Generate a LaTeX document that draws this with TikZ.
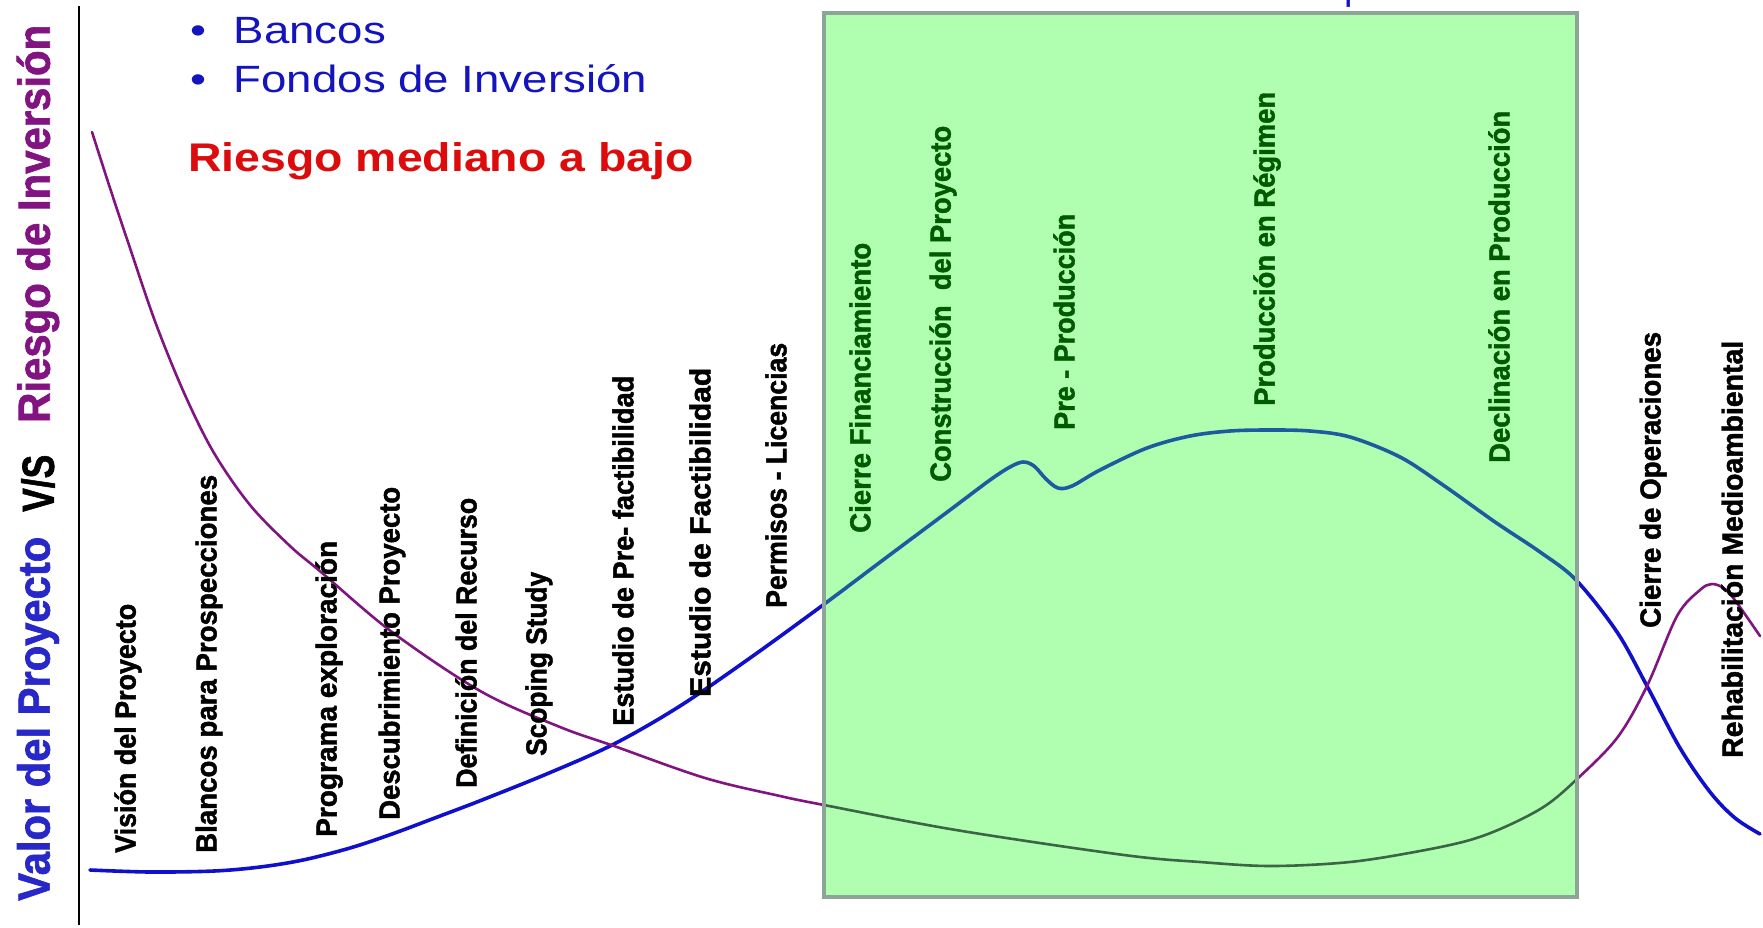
\documentclass[tikz,border=0pt]{standalone}
\usepackage{fontspec}
\setmainfont{Liberation Sans}
\newfontfamily\heavyfont{Liberation Sans}[BoldFeatures={FakeBold=1.6}]
\usepackage{graphicx}
\definecolor{valblue}{RGB}{16,16,204}
\definecolor{riskpurple}{RGB}{128,20,128}
\definecolor{valin}{RGB}{30,90,160}
\definecolor{riskin}{RGB}{60,100,70}
\definecolor{rectfill}{RGB}{176,255,176}
\definecolor{rectborder}{RGB}{140,165,150}
\definecolor{labgreen}{RGB}{0,90,0}
\definecolor{titleblue}{RGB}{20,20,190}
\definecolor{titlered}{RGB}{220,12,12}
\definecolor{yblue}{RGB}{40,40,200}
\definecolor{ypurple}{RGB}{130,20,130}
\newcommand\fitlab[2]{\resizebox{#1pt}{\height}{#2}}
\newcommand\bluecurve{plot[smooth,tension=0.55] coordinates {(90,870) (150,872) (214,871) (260,867) (303,860) (350,848) (392,834) (440,816) (482,800) (549,773) (614,744) (680,706) (750,658) (823,605) (883,560) (950,510) (990,480) (1010,467) (1023,462) (1034,466) (1046,479) (1058,488) (1072,486) (1100,470) (1147,448) (1190,436) (1230,431) (1270,430) (1310,431) (1350,437) (1400,457) (1443,485) (1495,522) (1540,552) (1576,580) (1617,632) (1647,686) (1680,748) (1710,792) (1735,818) (1760,834)}}
\newcommand\riskcurve{plot[smooth,tension=0.55] coordinates {(92,132) (110,188) (130,248) (156,324) (185,395) (214,453) (250,505) (290,546) (321,572) (392,632) (482,692) (560,727) (614,746) (705,778) (780,796) (824,805) (956,830) (1124,855) (1200,862) (1271,866) (1350,862) (1420,851) (1470,840) (1507,826) (1545,806) (1576,780) (1617,738) (1647,686) (1677,616) (1700,590) (1712,584) (1725,589) (1737,603) (1760,636)}}
\begin{document}
\begin{tikzpicture}[x=1pt,y=-1pt,
  lab/.style={rotate=90,anchor=west,inner sep=0pt,font=\fontsize{29}{31}\heavyfont\bfseries},
  outlab/.style={lab,text=black},
  inlab/.style={lab,text=labgreen},
  ylab/.style={rotate=90,anchor=west,inner sep=0pt,font=\fontsize{45}{47}\heavyfont\bfseries},
  listtext/.style={anchor=base west,inner sep=0pt,text=titleblue,font=\fontsize{38}{40}\selectfont},
  valline/.style={line width=3.6pt,line join=round,line cap=round},
  riskline/.style={line width=2.6pt,line join=round,line cap=round}]
\useasboundingbox[fill=white] (0,0) rectangle (1763,927);
% axis
\coordinate (axtop) at (79,6);
\coordinate (axbot) at (79,925);
\draw[line width=2.6pt,black] (axtop) -- (axbot);
% curves (outside colours)
\draw[valline,draw=valblue] \bluecurve;
\draw[riskline,draw=riskpurple] \riskcurve;
% green zone
\fill[rectfill] (824,13) rectangle (1577,897);
\begin{scope}
  \clip (824,13) rectangle (1577,897);
  \draw[valline,draw=valin] \bluecurve;
  \draw[riskline,draw=riskin] \riskcurve;
\end{scope}
\draw[rectborder,line width=4pt] (824,13) rectangle (1577,897);
% y-axis title
\node[ylab,text=yblue] (yv) at (38,901) {\fitlab{364}{Valor del Proyecto}};
\node[ylab,text=black] (ys) at (38,512) {\fitlab{57}{V/S}};
\node[ylab,text=ypurple] (yr) at (38,423) {\fitlab{398}{Riesgo de Inversión}};
% top texts
\begin{scope}
  \clip (0,0) rectangle (1763,927);
  \node[listtext] (cut) at (1344,-1) {p};
\end{scope}
\node[listtext] (l1) at (190,43) {\scalebox{1.2}[1]{\textbullet\hspace{23pt}Bancos}};
\node[listtext] (l2) at (190,92) {\scalebox{1.2}[1]{\textbullet\hspace{23pt}Fondos de Inversión}};
\node[anchor=base west,inner sep=0pt,text=titlered,font=\fontsize{40}{44}\selectfont\bfseries] (risk) at (188,171) {\scalebox{1.16}[1]{Riesgo mediano a bajo}};
% stage labels
\node[outlab] (s1) at (128,853) {\fitlab{249}{Visión del Proyecto}};
\node[outlab] (s2) at (209,853) {\fitlab{378}{Blancos para Prospecciones}};
\node[outlab] (s3) at (329,837) {\fitlab{296}{Programa exploración}};
\node[outlab] (s4) at (392,820) {\fitlab{333}{Descubrimiento Proyecto}};
\node[outlab] (s5) at (466,788) {\fitlab{290}{Definición del Recurso}};
\node[outlab] (s6) at (539,756) {\fitlab{184}{Scoping Study}};
\node[outlab] (s7) at (623,726) {\fitlab{350}{Estudio de Pre- factibilidad}};
\node[outlab] (s8) at (700,697) {\fitlab{329}{Estudio de Factibilidad}};
\node[outlab] (s9) at (776,608) {\fitlab{265}{Permisos - Licencias}};
\node[inlab] (s10) at (860,533) {\fitlab{290}{Cierre Financiamiento}};
\node[inlab] (s11) at (943,482) {\fitlab{356}{Construcción\ \ del Proyecto}};
\node[inlab] (s12) at (1064,430) {\fitlab{216}{Pre - Producción}};
\node[inlab] (s13) at (1267,406) {\fitlab{314}{Producción en Régimen}};
\node[inlab] (s14) at (1499,463) {\fitlab{352}{Declinación en Producción}};
\node[outlab] (s15) at (1653,628) {\fitlab{296}{Cierre de Operaciones}};
\node[outlab] (s16) at (1732,758) {\fitlab{417}{Rehabilitación Medioambiental}};
\end{tikzpicture}
\end{document}
